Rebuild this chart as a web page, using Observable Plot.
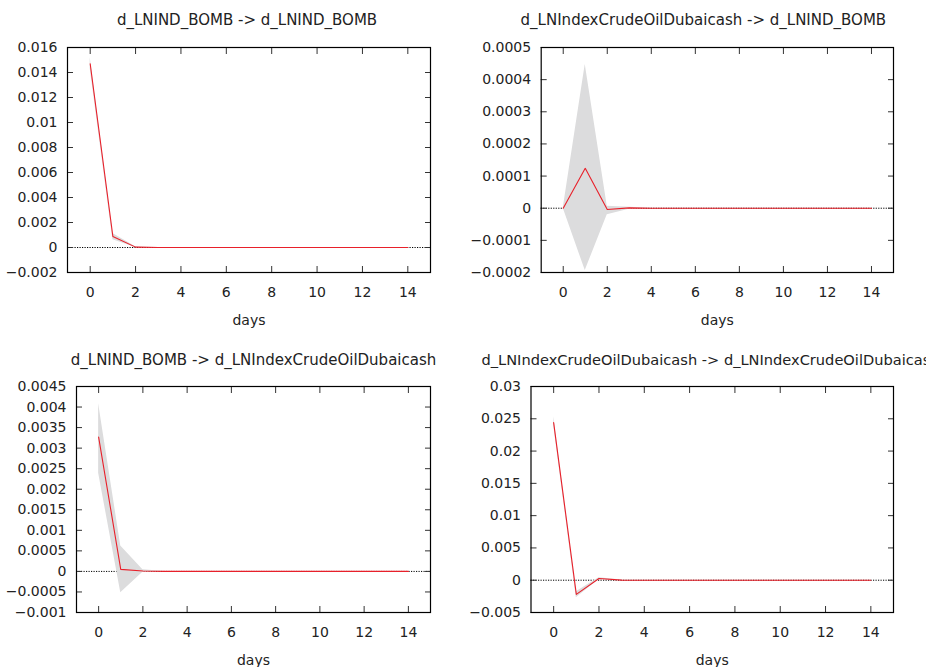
<!DOCTYPE html>
<html>
<head>
<meta charset="utf-8">
<script src="https://cdn.jsdelivr.net/npm/d3@7"></script>
<script src="https://cdn.jsdelivr.net/npm/@observablehq/plot@0.6"></script>
<style>
  html, body { margin: 0; padding: 0; background: #fff; overflow: hidden; }
  #wrap { position: relative; width: 926px; height: 667px; overflow: hidden; }
  .panel { position: absolute; }
</style>
</head>
<body>
<div id="wrap"></div>
<script>
// ---- data ----
const days = [0, 1, 2, 3, 4, 5, 6, 7, 8, 9, 10, 11, 12, 13, 14];
const xTicks = [0, 2, 4, 6, 8, 10, 12, 14];

const titles = [
  "d_LNIND_BOMB -> d_LNIND_BOMB",
  "d_LNIndexCrudeOilDubaicash -> d_LNIND_BOMB",
  "d_LNIND_BOMB -> d_LNIndexCrudeOilDubaicash",
  "d_LNIndexCrudeOilDubaicash -> d_LNIndexCrudeOilDubaicash"
];

// panel 1: d_LNIND_BOMB -> d_LNIND_BOMB
const p1Resp = [0.0147, 0.00088, 0.00003, 0, 0, 0, 0, 0, 0, 0, 0, 0, 0, 0, 0];
const p1Lo   = [0.0143, 0.00062, 0.00000, 0, 0, 0, 0, 0, 0, 0, 0, 0, 0, 0, 0];
const p1Hi   = [0.0152, 0.00112, 0.00006, 0, 0, 0, 0, 0, 0, 0, 0, 0, 0, 0, 0];
const p1Ticks = [-0.002, 0, 0.002, 0.004, 0.006, 0.008, 0.01, 0.012, 0.014, 0.016];

// panel 2: d_LNIndexCrudeOilDubaicash -> d_LNIND_BOMB
const p2Resp = [0, 0.000124, -0.000004, 0.000001, 0, 0, 0, 0, 0, 0, 0, 0, 0, 0, 0];
const p2Lo   = [0, -0.000194, -0.00002, -0.000003, 0, 0, 0, 0, 0, 0, 0, 0, 0, 0, 0];
const p2Hi   = [0, 0.000447, 0.000006, 0.000003, 0, 0, 0, 0, 0, 0, 0, 0, 0, 0, 0];
const p2Ticks = [-0.0002, -0.0001, 0, 0.0001, 0.0002, 0.0003, 0.0004, 0.0005];

// panel 3: d_LNIND_BOMB -> d_LNIndexCrudeOilDubaicash
const p3Resp = [0.00327, 0.00005, 0.00001, 0, 0, 0, 0, 0, 0, 0, 0, 0, 0, 0, 0];
const p3Lo   = [0.00239, -0.00052, -0.00002, 0, 0, 0, 0, 0, 0, 0, 0, 0, 0, 0, 0];
const p3Hi   = [0.00408, 0.00062, 0.00004, 0, 0, 0, 0, 0, 0, 0, 0, 0, 0, 0, 0];
const p3Ticks = [-0.001, -0.0005, 0, 0.0005, 0.001, 0.0015, 0.002, 0.0025, 0.003, 0.0035, 0.004, 0.0045];

// panel 4: d_LNIndexCrudeOilDubaicash -> d_LNIndexCrudeOilDubaicash
const p4Resp = [0.0244, -0.0022, 0.00026, 0.00002, 0, 0, 0, 0, 0, 0, 0, 0, 0, 0, 0];
const p4Lo   = [0.0240, -0.0027, 0.00010, 0, 0, 0, 0, 0, 0, 0, 0, 0, 0, 0, 0];
const p4Hi   = [0.0253, -0.0018, 0.00040, 0.00004, 0, 0, 0, 0, 0, 0, 0, 0, 0, 0, 0];
const p4Ticks = [-0.005, 0, 0.005, 0.01, 0.015, 0.02, 0.025, 0.03];

// ---- helpers ----
const fmt = d => (d < 0 ? "\u2212" + String(-d) : String(d));
const table = (r, lo, hi) => days.map((d, i) => ({day: d, resp: r[i], lo: lo[i], hi: hi[i]}));

const layout = [
  {left: 0,   top: 0,   height: 333, ml: 67,   mt: 47, mb: 61, ticks: p1Ticks, data: table(p1Resp, p1Lo, p1Hi), title: titles[0], tAnchor: "middle", tdx: -2,  tfs: 15},
  {left: 463, top: 0,   height: 333, ml: 77.7, mt: 47, mb: 61, ticks: p2Ticks, data: table(p2Resp, p2Lo, p2Hi), title: titles[1], tAnchor: "middle", tdx: -14, tfs: 15},
  {left: 0,   top: 340, height: 327, ml: 76,   mt: 46, mb: 55, ticks: p3Ticks, data: table(p3Resp, p3Lo, p3Hi), title: titles[2], tAnchor: "middle", tdx: 0,   tfs: 15},
  {left: 463, top: 340, height: 327, ml: 67.5, mt: 46, mb: 55, ticks: p4Ticks, data: table(p4Resp, p4Lo, p4Hi), title: titles[3], tAnchor: "start", tdx: -49.5, tfs: 14.6}
];

const wrap = document.getElementById("wrap");
for (const p of layout) {
  const yDomain = [p.ticks[0], p.ticks[p.ticks.length - 1]];
  const chart = Plot.plot({
    width: 463,
    height: p.height,
    marginLeft: p.ml,
    marginRight: 33,
    marginTop: p.mt,
    marginBottom: p.mb,
    style: {fontFamily: "'DejaVu Sans', Verdana, sans-serif", fontSize: "14px", color: "#222", background: "#fff", overflow: "visible"},
    x: {domain: [-1, 15]},
    y: {domain: yDomain},
    marks: [
      Plot.ruleY([0], {stroke: "#000", strokeWidth: 1, strokeDasharray: "1.2,1.3"}),
      Plot.areaY(p.data, {x: "day", y1: "lo", y2: "hi", fill: "#dcdcdd"}),
      Plot.line(p.data, {x: "day", y: "resp", stroke: "#e8202a", strokeWidth: 1.1}),
      Plot.axisY({anchor: "left", ticks: p.ticks, tickSize: -6, tickPadding: 16, tickFormat: fmt, label: null, stroke: "#333"}),
      Plot.axisY({anchor: "right", ticks: p.ticks, tickSize: -6, tickFormat: () => "", label: null, stroke: "#333"}),
      Plot.axisX({anchor: "bottom", ticks: xTicks, tickSize: -6, tickPadding: 21, tickFormat: d => String(d), label: "days", labelAnchor: "center", labelArrow: "none", labelOffset: 52, stroke: "#333"}),
      Plot.axisX({anchor: "top", ticks: xTicks, tickSize: -6, tickFormat: () => "", label: null, stroke: "#333"}),
      Plot.frame({stroke: "#000", strokeWidth: 1.2}),
      Plot.text([p.title], {
        text: d => d,
        frameAnchor: p.tAnchor === "start" ? "top-left" : "top",
        textAnchor: p.tAnchor,
        lineAnchor: "middle",
        dx: p.tdx,
        dy: -(p.mt - 20),
        fontSize: p.tfs,
        fill: "#222"
      })
    ]
  });
  chart.classList.add("panel");
  chart.style.left = p.left + "px";
  chart.style.top = p.top + "px";
  wrap.appendChild(chart);
}
</script>
</body>
</html>
